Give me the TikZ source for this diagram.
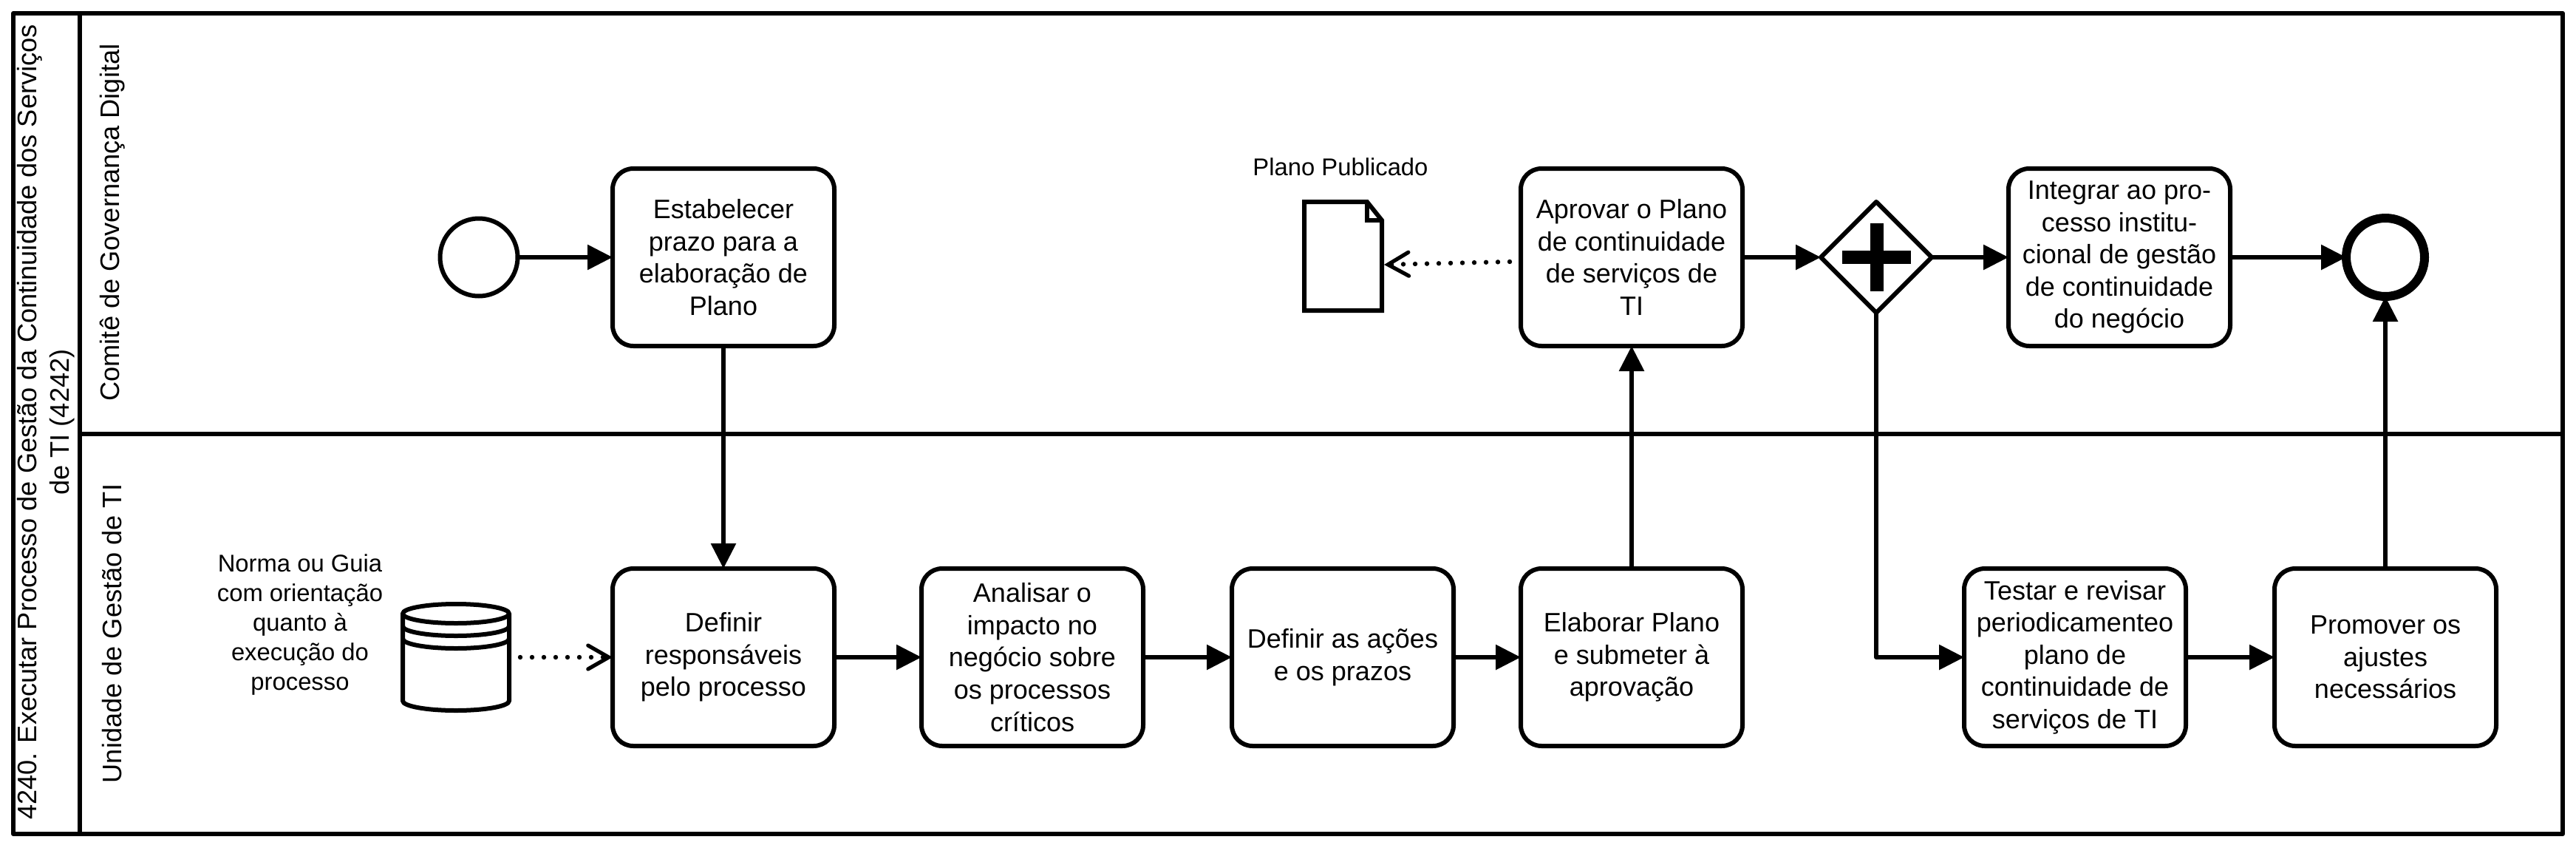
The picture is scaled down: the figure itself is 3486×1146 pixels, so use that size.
\documentclass[tikz,border=0pt]{standalone}
\usepackage{fontspec}
\setmainfont{Liberation Sans}
\usetikzlibrary{arrows.meta,shapes.geometric}
\tikzset{
  px/.style={x=0.5pt,y=-0.5pt},
  taskbox/.style={draw,line width=3pt,rounded corners=14pt,minimum width=150pt,minimum height=120pt,align=center,inner sep=0pt,outer sep=0pt,font=\fontsize{18}{21.8}\selectfont,fill=white},
  flow/.style={line width=3pt,-{Triangle[length=17pt,width=16.5pt]}},
  assoc/.style={line width=3.2pt,dash pattern=on 0pt off 8pt,line cap=round,-{Straight Barb[length=14pt,width=16pt,line width=2.6pt,line cap=round]}},
  lanelabel/.style={rotate=90,font=\fontsize{18.1}{22}\selectfont,align=center,inner sep=0pt},
  smalllabel/.style={font=\fontsize{16.4}{20}\selectfont,align=center,inner sep=0pt},
  frameline/.style={line width=3pt}
}
\begin{document}
\begin{tikzpicture}[px,line join=round]
\useasboundingbox (0,0) rectangle (3486,1146);
\fill[white] (0,0) rectangle (3486,1146);
% frame
\draw[frameline] (18,18) rectangle (3468,1128);
\draw[frameline] (108,18) -- (108,1128);
\draw[frameline] (108,587) -- (3468,587);
% headers
\node[rotate=90,font=\fontsize{18.1}{22}\selectfont,align=center,inner sep=0pt] (pool) at (62,571) {4240. Executar Processo de Gestão da Continuidade dos Serviços\\de TI (4242)};
\node[lanelabel] (lane1) at (152,301) {Comitê de Governança Digital};
\node[lanelabel] (lane2) at (152,857) {Unidade de Gestão de TI};
% events
\node[circle,draw,line width=3pt,minimum size=52.5pt,inner sep=0pt,outer sep=0pt,fill=white] (start) at (648,348) {};
\node[circle,draw,line width=6pt,minimum size=53pt,inner sep=0pt,outer sep=0pt,fill=white] (stop) at (3228,348) {};
% tasks
\node[taskbox] (t1) at (979,348) {Estabelecer\\prazo para a\\elaboração de\\Plano};
\node[taskbox] (t2) at (979,889) {Definir\\responsáveis\\pelo processo};
\node[taskbox] (t3) at (1397,889) {Analisar o\\impacto no\\negócio sobre\\os processos\\críticos};
\node[taskbox] (t4) at (1817,889) {Definir as ações\\e os prazos};
\node[taskbox] (t5) at (2208,889) {Elaborar Plano\\e submeter à\\aprovação};
\node[taskbox] (t6) at (2208,348) {Aprovar o Plano\\de continuidade\\de serviços de\\TI};
\node[taskbox] (t7) at (2868,348) {Integrar ao pro-\\cesso institu-\\cional de gestão\\de continuidade\\do negócio};
\node[taskbox] (t8) at (2808,889) {Testar e revisar\\periodicamenteo\\plano de\\continuidade de\\serviços de TI};
\node[taskbox] (t9) at (3228,889) {Promover os\\ajustes\\necessários};
% gateway
\node[diamond,draw,line width=3pt,minimum width=75pt,minimum height=75pt,inner sep=0pt,outer sep=0pt,fill=white] (gw) at (2539,348) {};
\fill (2493,339) rectangle (2586,357);
\fill (2531,302) rectangle (2549,394);
% data store
\node[minimum width=72pt,minimum height=72pt,inner sep=0pt] (ds) at (617,889) {};
\draw[line width=3pt,fill=white] (545,830) -- (545,948) arc[start angle=180,end angle=0,x radius=72,y radius=13] -- (689,830) arc[start angle=0,end angle=-180,x radius=72,y radius=13] -- cycle;
\draw[line width=3pt] (545,830) arc[start angle=180,end angle=0,x radius=72,y radius=13];
\draw[line width=3pt] (545,847) arc[start angle=180,end angle=0,x radius=72,y radius=13];
\draw[line width=3pt] (545,864) arc[start angle=180,end angle=0,x radius=72,y radius=13];
\node[smalllabel] (dslabel) at (406,845) {Norma ou Guia\\com orientação\\quanto à\\execução do\\processo};
% document
\node[minimum width=54pt,minimum height=74pt,inner sep=0pt] (doc) at (1817,347) {};
\draw[line width=3pt,line join=miter,fill=white] (1765,273) -- (1850,273) -- (1870,298) -- (1870,420) -- (1765,420) -- cycle;
\draw[line width=3pt,line join=miter] (1850,273) -- (1850,298) -- (1870,298);
\node[smalllabel] (doclabel) at (1814,226) {Plano Publicado};
% flows
\draw[flow] (start.east) -- (t1.west);
\draw[flow] (t1.south) -- (t2.north);
\draw[flow] (t2.east) -- (t3.west);
\draw[flow] (t3.east) -- (t4.west);
\draw[flow] (t4.east) -- (t5.west);
\draw[flow] (t5.north) -- (t6.south);
\draw[flow] (t6.east) -- (gw.west);
\draw[flow] (gw.east) -- (t7.west);
\draw[flow] (t7.east) -- (stop.west);
\draw[flow] (gw.south) |- (t8.west);
\draw[flow] (t8.east) -- (t9.west);
\draw[flow] (t9.north) -- (stop.south);
% associations
\coordinate (a1) at (2043,354);
\coordinate (a2) at (1873,358);
\coordinate (a3) at (704,889);
\draw[assoc] (a1) -- (a2);
\draw[assoc] (a3) -- (t2.west);
\end{tikzpicture}
\end{document}
